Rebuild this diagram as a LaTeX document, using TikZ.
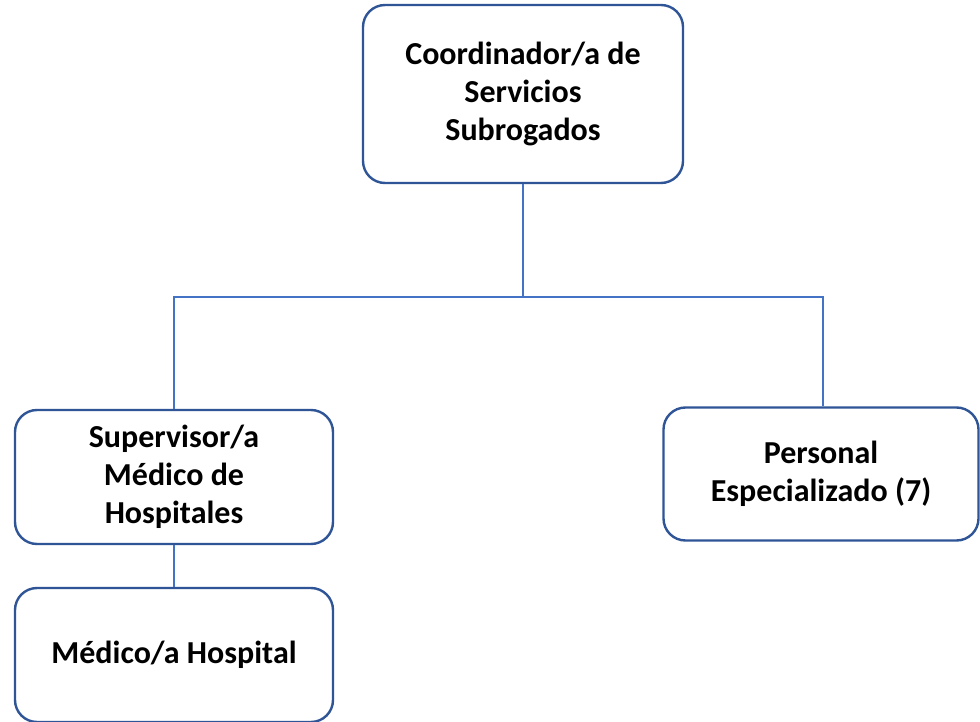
\documentclass[tikz,border=0pt]{standalone}
\usepackage{fontspec}
\setmainfont{Carlito}
\begin{document}
\begin{tikzpicture}[x=1pt,y=-1pt,
  box/.style={draw=boxblue, line width=2.4pt, rounded corners=22pt, fill=white,
    align=center, font=\bfseries\fontsize{32}{38}\selectfont, inner sep=0pt},
  link/.style={draw=lineblue, line width=1.1pt}]
\definecolor{boxblue}{HTML}{2F5597}
\definecolor{lineblue}{HTML}{4472C4}
\useasboundingbox[fill=white] (0,0) rectangle (980,722);
\node[box, minimum width=320pt, minimum height=178pt] (top) at (523,94) {Coordinador/a de\\Servicios\\Subrogados};
\node[box, minimum width=318pt, minimum height=134pt] (left) at (174,477) {Supervisor/a\\Médico de\\Hospitales};
\node[box, minimum width=315pt, minimum height=133pt] (right) at (821,474) {Personal\\Especializado (7)};
\node[box, minimum width=318pt, minimum height=134pt] (bottom) at (174,655) {Médico/a Hospital};
\coordinate (j) at (523,297);
\draw[link] (top.south) -- (j) -| (left.north);
\draw[link] (j) -| ([xshift=2pt]right.north);
\draw[link] (left.south) -- (bottom.north);
\end{tikzpicture}
\end{document}
